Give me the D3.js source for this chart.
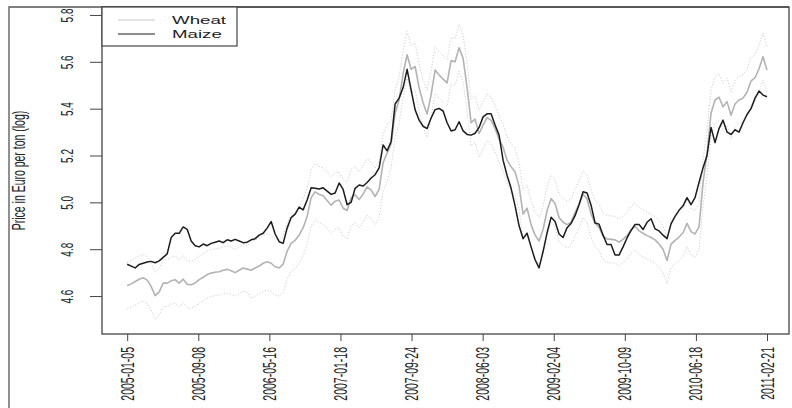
<!DOCTYPE html>
<html>
<head>
<meta charset="utf-8">
<script src="https://cdn.jsdelivr.net/npm/d3@7"></script>
<style>
  html, body { margin: 0; padding: 0; background: #fff; }
  svg { display: block; }
  text { font-family: "Liberation Sans", Arial, Helvetica, sans-serif; fill: #222; }
</style>
</head>
<body>
<svg id="chart" width="792" height="408"></svg>
<script>
// Tick labels on the observation axis (evenly spaced trading-day positions)
const dateLabels = ["2005-01-05","2005-09-08","2006-05-16","2007-01-18","2007-09-24",
                    "2008-06-03","2009-02-04","2009-10-09","2010-06-18","2011-02-21"];
const priceTicks = [4.6, 4.8, 5.0, 5.2, 5.4, 5.6, 5.8];
const seriesNames = ["Wheat", "Maize"];

// Log price (Euro per ton), sampled evenly from 2005-01-05 to 2011-02-21
const maize = [
  4.736,4.728,4.720,4.735,4.740,4.745,4.748,4.742,4.750,4.765,
  4.780,4.850,4.868,4.868,4.895,4.885,4.835,4.815,4.810,4.822,
  4.815,4.825,4.830,4.835,4.828,4.840,4.835,4.842,4.835,4.828,
  4.830,4.840,4.845,4.860,4.868,4.890,4.918,4.865,4.832,4.825,
  4.890,4.935,4.950,4.980,4.968,5.010,5.062,5.060,5.057,5.062,
  5.048,5.034,5.040,5.083,5.055,4.990,5.000,5.060,5.074,5.070,
  5.085,5.104,5.118,5.147,5.245,5.220,5.260,5.420,5.445,5.490,
  5.568,5.480,5.395,5.351,5.325,5.315,5.360,5.396,5.401,5.390,
  5.340,5.305,5.310,5.344,5.305,5.290,5.287,5.295,5.320,5.365,
  5.378,5.378,5.330,5.287,5.180,5.115,5.060,4.985,4.900,4.845,
  4.868,4.810,4.755,4.720,4.790,4.870,4.936,4.918,4.865,4.850,
  4.892,4.910,4.943,4.990,5.045,5.040,4.988,4.912,4.907,4.860,
  4.820,4.820,4.775,4.775,4.810,4.848,4.880,4.906,4.906,4.884,
  4.915,4.930,4.887,4.878,4.860,4.845,4.908,4.940,4.966,4.985,
  5.020,4.990,5.020,5.085,5.147,5.200,5.320,5.255,5.315,5.351,
  5.300,5.290,5.310,5.300,5.340,5.375,5.400,5.445,5.475,5.458,
  5.451
];

const wheat = [
  4.645,4.652,4.662,4.672,4.678,4.668,4.640,4.602,4.618,4.655,
  4.655,4.665,4.670,4.655,4.672,4.650,4.648,4.656,4.670,4.680,
  4.692,4.698,4.702,4.704,4.710,4.714,4.708,4.700,4.710,4.720,
  4.715,4.710,4.720,4.728,4.740,4.746,4.740,4.725,4.720,4.736,
  4.792,4.825,4.838,4.860,4.892,4.940,5.020,5.045,5.034,5.028,
  5.008,4.988,5.005,5.010,4.975,4.965,5.020,5.032,5.012,5.035,
  5.066,5.052,5.025,5.055,5.170,5.210,5.250,5.380,5.437,5.550,
  5.630,5.568,5.580,5.490,5.425,5.377,5.460,5.565,5.544,5.526,
  5.510,5.605,5.600,5.660,5.615,5.490,5.340,5.355,5.294,5.330,
  5.362,5.350,5.315,5.270,5.235,5.180,5.152,5.130,5.069,4.950,
  4.975,4.905,4.860,4.835,4.884,4.965,5.016,4.995,4.935,4.915,
  4.905,4.915,4.957,4.992,5.035,5.015,4.950,4.912,4.893,4.856,
  4.844,4.842,4.840,4.830,4.842,4.858,4.882,4.898,4.878,4.868,
  4.858,4.850,4.840,4.822,4.800,4.752,4.822,4.838,4.852,4.870,
  4.910,4.875,4.865,4.895,5.083,5.210,5.380,5.437,5.449,5.408,
  5.430,5.372,5.420,5.437,5.445,5.470,5.518,5.532,5.570,5.622,
  5.565
];

// Upper and lower dotted bands around the wheat price
const wheatUpper = [
  4.745,4.752,4.762,4.772,4.778,4.768,4.740,4.702,4.718,4.755,
  4.755,4.765,4.770,4.755,4.772,4.750,4.748,4.756,4.770,4.780,
  4.792,4.798,4.802,4.804,4.810,4.814,4.808,4.800,4.810,4.820,
  4.815,4.830,4.840,4.848,4.860,4.866,4.860,4.845,4.840,4.856,
  4.912,4.945,4.958,4.980,5.012,5.060,5.140,5.165,5.154,5.148,
  5.128,5.108,5.125,5.130,5.095,5.085,5.140,5.152,5.132,5.155,
  5.186,5.172,5.145,5.175,5.290,5.330,5.350,5.480,5.537,5.650,
  5.730,5.668,5.680,5.590,5.525,5.477,5.560,5.665,5.644,5.626,
  5.610,5.705,5.700,5.760,5.715,5.590,5.440,5.455,5.394,5.430,
  5.462,5.450,5.415,5.370,5.335,5.280,5.252,5.230,5.169,5.050,
  5.075,5.005,4.960,4.935,4.984,5.065,5.116,5.095,5.035,5.015,
  5.005,5.015,5.057,5.092,5.135,5.115,5.050,5.012,4.993,4.956,
  4.944,4.942,4.940,4.930,4.942,4.958,4.982,4.998,4.978,4.968,
  4.958,4.950,4.940,4.922,4.900,4.852,4.922,4.938,4.952,4.970,
  5.010,4.975,4.965,4.995,5.183,5.310,5.480,5.537,5.549,5.508,
  5.530,5.472,5.520,5.537,5.545,5.570,5.618,5.632,5.670,5.722,
  5.665
];

const wheatLower = [
  4.545,4.552,4.562,4.572,4.578,4.568,4.540,4.502,4.518,4.555,
  4.555,4.565,4.570,4.555,4.572,4.550,4.548,4.556,4.570,4.580,
  4.592,4.598,4.602,4.604,4.610,4.614,4.608,4.600,4.610,4.620,
  4.615,4.590,4.600,4.608,4.620,4.626,4.620,4.605,4.600,4.616,
  4.672,4.705,4.718,4.740,4.772,4.820,4.900,4.925,4.914,4.908,
  4.888,4.868,4.885,4.890,4.855,4.845,4.900,4.912,4.892,4.915,
  4.946,4.932,4.905,4.935,5.050,5.090,5.150,5.280,5.337,5.450,
  5.530,5.468,5.480,5.390,5.325,5.277,5.360,5.465,5.444,5.426,
  5.410,5.505,5.500,5.560,5.515,5.390,5.240,5.255,5.194,5.230,
  5.262,5.250,5.215,5.170,5.135,5.080,5.052,5.030,4.969,4.850,
  4.875,4.805,4.760,4.735,4.784,4.865,4.916,4.895,4.835,4.815,
  4.805,4.815,4.857,4.892,4.935,4.915,4.850,4.812,4.793,4.756,
  4.744,4.742,4.740,4.730,4.742,4.758,4.782,4.798,4.778,4.768,
  4.758,4.750,4.740,4.722,4.700,4.652,4.722,4.738,4.752,4.770,
  4.810,4.775,4.765,4.795,4.983,5.110,5.280,5.337,5.349,5.308,
  5.330,5.272,5.320,5.337,5.345,5.370,5.418,5.432,5.470,5.522,
  5.465
];

const svg = d3.select("#chart");
const W = 792, H = 408;
const plot = { left: 102, right: 789, top: 7, bottom: 334 };
const stretch = 1.7;   // horizontal stretch applied to all lettering

const n = wheat.length;
const x = d3.scaleLinear().domain([-6.3, (n - 1) + 5.5]).range([plot.left, plot.right]);
const y = d3.scaleLinear().domain([4.438, 5.834]).range([plot.bottom, plot.top]);

const tickIdx = dateLabels.map((d, k) => k * (n - 1) / (dateLabels.length - 1));

svg.append("rect").attr("width", W).attr("height", H).attr("fill", "#fff");

// Series lines
const line = d3.line().x((d, i) => x(i)).y(d => y(d));
const gLines = svg.append("g");
[wheatUpper, wheatLower].forEach(band => {
  gLines.append("path").datum(band).attr("d", line)
    .attr("fill", "none").attr("stroke", "#cfcfcf").attr("stroke-width", 1)
    .attr("stroke-dasharray", "1.2,1.8");
});
gLines.append("path").datum(wheat).attr("d", line)
  .attr("fill", "none").attr("stroke", "#b3b3b3").attr("stroke-width", 1.6)
  .attr("stroke-linejoin", "round");
gLines.append("path").datum(maize).attr("d", line)
  .attr("fill", "none").attr("stroke", "#1c1c1c").attr("stroke-width", 1.5)
  .attr("stroke-linejoin", "round");

// Y axis
const yAxis = svg.append("g").attr("transform", `translate(${plot.left},0)`)
  .call(d3.axisLeft(y).tickValues(priceTicks).tickSize(12).tickFormat(d3.format(".1f")));
yAxis.select(".domain").remove();
yAxis.selectAll(".tick line").attr("stroke", "#444").attr("stroke-width", 1);
yAxis.selectAll(".tick text")
  .attr("x", null).attr("dy", null)
  .attr("transform", `translate(-29,0) scale(${stretch},1) rotate(-90)`)
  .attr("text-anchor", "middle")
  .style("font-size", "10px")
  .style("font-family", "'Liberation Sans', Arial, sans-serif")
  .attr("fill", "#222");

// X axis
const xAxis = svg.append("g").attr("transform", `translate(0,${plot.bottom})`)
  .call(d3.axisBottom(x).tickValues(tickIdx).tickSize(7).tickFormat((d, i) => dateLabels[i]));
xAxis.select(".domain").remove();
xAxis.selectAll(".tick line").attr("stroke", "#444").attr("stroke-width", 1);
xAxis.selectAll(".tick text")
  .attr("y", null).attr("dy", null)
  .attr("transform", `translate(6,13) scale(${stretch},1) rotate(-90)`)
  .attr("text-anchor", "end")
  .style("font-size", "10.5px")
  .style("font-family", "'Liberation Sans', Arial, sans-serif")
  .attr("fill", "#222");

// Y axis title
svg.append("text")
  .attr("transform", `translate(25,${(plot.top + plot.bottom) / 2}) scale(${stretch},1) rotate(-90)`)
  .attr("text-anchor", "middle")
  .style("font-size", "10.5px")
  .text("Price in Euro per ton (log)");

// Outer figure frame (top and left edges)
svg.append("path")
  .attr("d", `M9,${H} L9,${plot.top} L${plot.right},${plot.top}`)
  .attr("fill", "none").attr("stroke", "#555").attr("stroke-width", 1.3);

// Plot box
svg.append("rect")
  .attr("x", plot.left).attr("y", plot.top)
  .attr("width", plot.right - plot.left).attr("height", plot.bottom - plot.top)
  .attr("fill", "none").attr("stroke", "#444").attr("stroke-width", 1.3);

// Legend
const legend = svg.append("g");
legend.append("rect")
  .attr("x", plot.left).attr("y", plot.top).attr("width", 135).attr("height", 39)
  .attr("fill", "#fff").attr("stroke", "#444").attr("stroke-width", 1.2);
const legendColors = ["#c8c8c8", "#1c1c1c"];
seriesNames.forEach((name, i) => {
  const ly = 20 + i * 14;
  legend.append("line")
    .attr("x1", 118).attr("x2", 155).attr("y1", ly).attr("y2", ly)
    .attr("stroke", legendColors[i]).attr("stroke-width", 1.2);
  legend.append("text")
    .attr("transform", `translate(172,${ly + 4}) scale(${stretch},1)`)
    .style("font-size", "11px")
    .text(name);
});
</script>
</body>
</html>
